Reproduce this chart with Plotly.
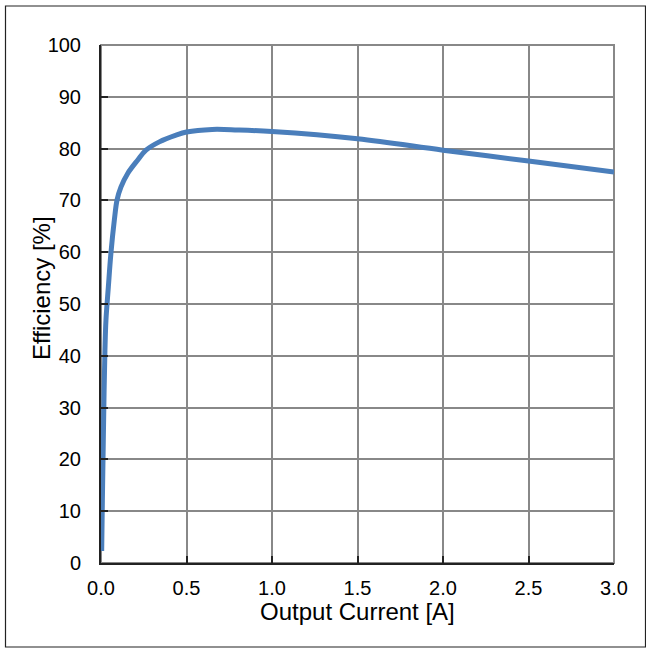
import plotly.graph_objects as go

current = [0.004, 0.008, 0.0135, 0.018, 0.023, 0.029, 0.043, 0.058, 0.078, 0.094, 0.117, 0.156, 0.215, 0.263, 0.341, 0.439, 0.5, 0.65, 0.8, 1.0, 1.5, 2.0, 2.5, 3.0]
efficiency = [2.3, 12, 23.7, 33, 41, 46.9, 53.3, 59.8, 66.2, 70.1, 72.6, 75.2, 77.8, 79.7, 81.3, 82.6, 83.2, 83.7, 83.6, 83.3, 81.9, 79.7, 77.6, 75.5]

x_ticks = [0.0, 0.5, 1.0, 1.5, 2.0, 2.5, 3.0]
x_labels = ["0.0", "0.5", "1.0", "1.5", "2.0", "2.5", "3.0"]
y_ticks = [0, 10, 20, 30, 40, 50, 60, 70, 80, 90, 100]

W, H = 646, 649
L, R, T, B = 101, 32, 45, 86
PW, PH = W - L - R, H - T - B

fig = go.Figure()
fig.add_trace(go.Scatter(x=current, y=efficiency, mode="lines",
                         line=dict(color="#4a7ebb", width=5, shape="spline", smoothing=1.0),
                         showlegend=False, hoverinfo="skip"))

font = dict(family="Liberation Sans, Arial, sans-serif", size=20, color="#000")
fig.update_layout(
    width=W, height=H,
    margin=dict(l=L, r=R, t=T, b=B),
    paper_bgcolor="white", plot_bgcolor="white",
    font=font,
    shapes=[
        dict(type="rect", xref="paper", yref="paper", x0=0, x1=1, y0=0, y1=1,
             line=dict(color="#888888", width=2), layer="below"),
        dict(type="rect", xref="paper", yref="paper",
             x0=(5.5 - L) / PW, x1=(645.5 - L) / PW,
             y0=-(647 - (T + PH)) / PH, y1=(T + PH - 6) / PH,
             line=dict(color="#222222", width=1.2), layer="below"),
    ],
    annotations=[
        dict(text="Output Current [A]", xref="paper", yref="paper", x=0.5, y=0,
             xanchor="center", yanchor="middle", yshift=-48, showarrow=False,
             font=dict(size=24)),
        dict(text="Efficiency [%]", xref="paper", yref="paper", x=0, y=0.5,
             xanchor="center", yanchor="middle", xshift=-60, yshift=16, textangle=-90,
             showarrow=False, font=dict(size=24)),
    ],
)
fig.update_xaxes(range=[0, 3.0], tickvals=x_ticks, ticktext=x_labels,
                 showgrid=True, gridcolor="#888888", gridwidth=2,
                 showline=True, linecolor="#222222", linewidth=2,
                 ticks="inside", ticklen=7, tickcolor="#222222", tickwidth=2,
                 zeroline=False, ticklabelstandoff=6)
fig.update_yaxes(range=[0, 100], tickvals=y_ticks,
                 showgrid=True, gridcolor="#888888", gridwidth=2,
                 showline=True, linecolor="#222222", linewidth=2,
                 ticks="inside", ticklen=7, tickcolor="#222222", tickwidth=2,
                 zeroline=False, ticklabelstandoff=14)

fig.write_html("out.html", config={"displayModeBar": False, "staticPlot": True},
               post_script="document.body.style.margin='0';document.body.style.overflow='hidden';")
